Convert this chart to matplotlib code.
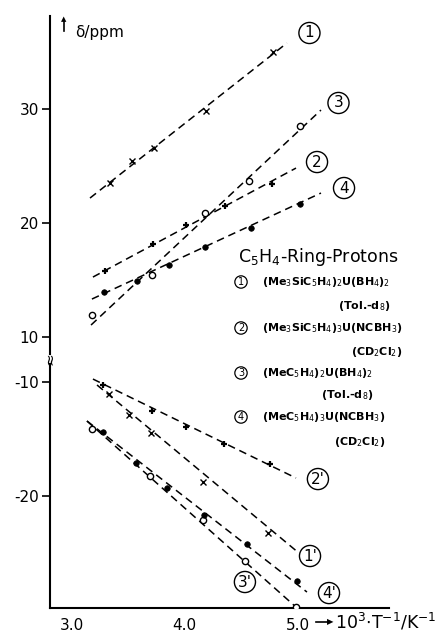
import numpy as np
import matplotlib.pyplot as plt

plt.rcParams['font.family'] = 'DejaVu Sans'
plt.rcParams['axes.unicode_minus'] = False

# 10^3/T values and shifts (ppm), upper branch
x1 = [3.341, 3.535, 3.730, 4.190, 4.783]
y1 = [23.51, 25.44, 26.58, 29.82, 35.00]
x2 = [3.296, 3.721, 4.013, 4.358, 4.774]
y2 = [15.79, 18.16, 19.82, 21.49, 23.42]
x3 = [3.181, 3.712, 4.181, 4.571, 5.022]
y3 = [11.93, 15.44, 20.88, 23.68, 28.51]
x4 = [3.288, 3.580, 3.863, 4.181, 4.588, 5.022]
y4 = [13.95, 14.91, 16.32, 17.89, 19.56, 21.67]

# lower branch (primed)
x1p = [3.332, 3.509, 3.704, 4.164, 4.739]
y1p = [-11.05, -12.89, -14.47, -18.77, -23.25]
x2p = [3.279, 3.712, 4.013, 4.350, 4.757]
y2p = [-10.26, -12.54, -13.95, -15.44, -17.19]
x3p = [3.181, 3.695, 4.164, 4.535, 4.987]
y3p = [-14.12, -18.25, -22.11, -25.70, -29.74]
x4p = [3.279, 3.571, 3.845, 4.173, 4.553, 4.996]
y4p = [-14.39, -17.11, -19.30, -21.67, -24.21, -27.46]

# straight-line fits: (x_start, x_end), (y_start, y_end)
fit1 = ([3.164, 4.907], [22.19, 35.79])
fit2 = ([3.190, 4.987], [15.26, 24.82])
fit3 = ([3.173, 5.208], [11.05, 29.91])
fit4 = ([3.181, 5.208], [13.33, 22.63])
fit1p = ([3.226, 5.013], [-10.26, -25.00])
fit2p = ([3.190, 4.987], [-9.74, -18.42])
fit3p = ([3.137, 4.987], [-13.42, -29.74])
fit4p = ([3.137, 5.084], [-13.42, -28.42])

compounds = [r'(Me$_3$SiC$_5$H$_4$)$_2$U(BH$_4$)$_2$',
             r'(Me$_3$SiC$_5$H$_4$)$_3$U(NCBH$_3$)',
             r'(MeC$_5$H$_4$)$_2$U(BH$_4$)$_2$',
             r'(MeC$_5$H$_4$)$_3$U(NCBH$_3$)']
solvents = [r'(Tol.-d$_8$)', r'(CD$_2$Cl$_2$)', r'(Tol.-d$_8$)', r'(CD$_2$Cl$_2$)']

W, H = 447, 632
fig = plt.figure(figsize=(W / 100, H / 100), dpi=100)


def rect(l, t, r, b):
    return [l / W, 1 - b / H, (r - l) / W, (b - t) / H]


ax_top = fig.add_axes(rect(50, 16, 389, 354))
ax_bot = fig.add_axes(rect(50, 364, 389, 608))

styles = {
    'x': dict(marker='x', ms=4, mew=1.0, mfc='black', mec='black'),
    '+': dict(marker='+', ms=5, mew=1.6, mfc='black', mec='black'),
    'o': dict(marker='o', ms=4.5, mew=1.0, mfc='white', mec='black'),
    '.': dict(marker='o', ms=4, mew=0.5, mfc='black', mec='black'),
}

series_top = [(x1, y1, fit1, 'x'), (x2, y2, fit2, '+'),
              (x3, y3, fit3, 'o'), (x4, y4, fit4, '.')]
series_bot = [(x1p, y1p, fit1p, 'x'), (x2p, y2p, fit2p, '+'),
              (x3p, y3p, fit3p, 'o'), (x4p, y4p, fit4p, '.')]

for ax, series in [(ax_top, series_top), (ax_bot, series_bot)]:
    for xs, ys, fit, m in series:
        ax.plot(fit[0], fit[1], color='black', lw=1.1, dashes=(5, 3.2))
        ax.plot(xs, ys, ls='none', zorder=3, **styles[m])
    ax.set_xlim(2.81, 5.81)
    for s in ['top', 'right']:
        ax.spines[s].set_visible(False)
    ax.spines['left'].set_linewidth(1.5)
    ax.spines['bottom'].set_linewidth(1.5)
    ax.tick_params(axis='y', length=6, width=1.2, labelsize=11, pad=2)

ax_top.spines['bottom'].set_visible(False)
ax_top.set_xticks([])
ax_top.set_ylim(8.51, 38.16)
ax_top.set_yticks([10, 20, 30])

ax_bot.set_ylim(-29.82, -8.42)
ax_bot.set_yticks([-10, -20])
ax_bot.set_xticks([3.0, 4.0, 5.0])
ax_bot.set_xticklabels(['3.0', '4.0', '5.0'])
ax_bot.tick_params(axis='x', length=0, labelsize=11, pad=7)

# circled line labels
circ = dict(boxstyle='circle,pad=0.2', fc='white', ec='black', lw=1.0)
for ax, lab, x, y in [(ax_top, '1', 5.106, 36.67), (ax_top, '3', 5.363, 30.53),
                      (ax_top, '2', 5.173, 25.35), (ax_top, '4', 5.412, 23.07),
                      (ax_bot, "2'", 5.181, -18.51), (ax_bot, "1'", 5.111, -25.26),
                      (ax_bot, "4'", 5.279, -28.51), (ax_bot, "3'", 4.535, -27.54)]:
    ax.text(x, y, lab, ha='center', va='center', fontsize=11, bbox=circ, zorder=5)

# axis break mark
fig.text(50 / W, 1 - 359 / H, '≈', rotation=90, ha='center', va='center', fontsize=11)

# axis titles
fig.text(75 / W, 1 - 33 / H, 'δ/ppm', ha='left', va='center', fontsize=11)
fig.add_artist(plt.Line2D([64 / W, 64 / W], [1 - 31 / H, 1 - 20 / H], color='black', lw=1.2))
fig.text(64 / W, 1 - 19 / H, '▲', ha='center', va='center', fontsize=5)
fig.text(335 / W, 1 - 622 / H, r'10$^3$$\cdot$T$^{-1}$/K$^{-1}$', ha='left', va='center', fontsize=12.5)
fig.add_artist(plt.Line2D([316 / W, 328 / W], [1 - 622 / H, 1 - 622 / H], color='black', lw=1.2))
fig.text(330 / W, 1 - 622 / H, '▶', ha='center', va='center', fontsize=6)

# legend block
fig.text(238 / W, 1 - 257 / H, r'C$_5$H$_4$-Ring-Protons', ha='left', va='center', fontsize=12.5)
renderer = fig.canvas.get_renderer()
entry_y = [282, 328, 373, 417]
solvent_y = [306, 352, 395, 442]
small_circ = dict(boxstyle='circle,pad=0.12', fc='white', ec='black', lw=0.9)
for i in range(4):
    fig.text(241 / W, 1 - entry_y[i] / H, str(i + 1), ha='center', va='center',
             fontsize=7, bbox=small_circ)
    t = fig.text(262 / W, 1 - entry_y[i] / H, compounds[i], ha='left', va='center',
                 fontsize=8, fontweight='bold')
    right = t.get_window_extent(renderer).x1
    fig.text(right / W, 1 - solvent_y[i] / H, solvents[i], ha='right', va='center',
             fontsize=8, fontweight='bold')

fig.savefig('out.png', dpi=100)
